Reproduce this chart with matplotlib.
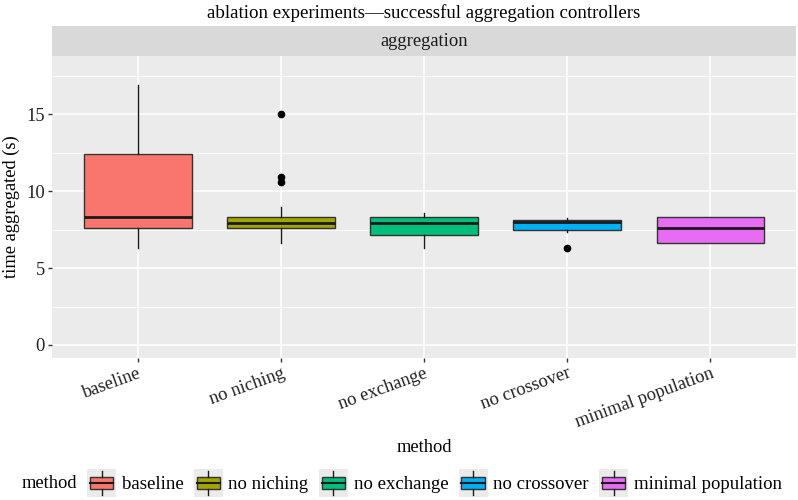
import numpy as np
import matplotlib.pyplot as plt
from matplotlib.patches import Rectangle, Patch
from matplotlib.lines import Line2D
from matplotlib.legend_handler import HandlerBase

plt.rcParams['font.family'] = ['Liberation Serif', 'DejaVu Serif']

methods = ['baseline', 'no niching', 'no exchange', 'no crossover', 'minimal population']
colors = ['#F8766D', '#A3A500', '#00BF7D', '#00B0F6', '#E76BF3']

# box statistics (seconds)
whislo = [6.32, 6.64, 6.32, 7.36, 6.64]
q1 = [7.62, 7.62, 7.17, 7.49, 6.64]
med = [8.34, 7.95, 7.95, 8.01, 7.62]
q3 = [12.44, 8.34, 8.34, 8.14, 8.34]
whishi = [16.94, 8.99, 8.60, 8.27, 8.34]
fliers = [[], [15.0, 10.94, 10.62], [], [6.32], []]

stats = []
for i, m in enumerate(methods):
    stats.append(dict(label=m, whislo=whislo[i], q1=q1[i], med=med[i],
                      q3=q3[i], whishi=whishi[i], fliers=fliers[i]))

FS = 13.3
W, H = 798, 500
fig = plt.figure(figsize=(W / 100, H / 100), dpi=100)
ax = fig.add_axes([52 / W, 1 - 358 / H, 744 / W, 302 / H])
ax.set_facecolor('#EBEBEB')

pos = np.arange(1, len(methods) + 1)
bp = ax.bxp(stats, positions=pos, widths=0.75, patch_artist=True,
            showcaps=False, manage_ticks=False,
            boxprops=dict(edgecolor='#333333', linewidth=1.0),
            medianprops=dict(color='#1a1a1a', linewidth=2.0),
            whiskerprops=dict(color='#1a1a1a', linewidth=1.0),
            flierprops=dict(marker='o', markerfacecolor='black',
                            markeredgecolor='black', markersize=4.5))
for patch, c in zip(bp['boxes'], colors):
    patch.set_facecolor(c)

ax.set_xlim(0.4, len(methods) + 0.6)
ax.set_ylim(-0.85, 18.8)
ax.set_yticks([0, 5, 10, 15])
ax.set_yticks([2.5, 7.5, 12.5, 17.5], minor=True)
ax.set_xticks(pos)
ax.set_xticklabels(methods, rotation=20, ha='right', rotation_mode='anchor')
ax.grid(which='major', color='white', linewidth=1.1)
ax.grid(which='minor', axis='y', color='white', linewidth=0.55)
ax.set_axisbelow(True)
for s in ax.spines.values():
    s.set_visible(False)
ax.tick_params(which='major', length=3, width=1, color='#333333',
               labelsize=FS, labelcolor='#222222', pad=2)
ax.tick_params(which='minor', length=0)
ax.set_xlabel('method', fontsize=FS, va='center')
ax.xaxis.set_label_coords(0.5, (358 - 447) / 302)
ax.set_ylabel('time aggregated (s)', fontsize=FS, va='center')
ax.yaxis.set_label_coords((11 - 52) / 744, 0.5)

# facet strip
sx = fig.add_axes([52 / W, 1 - 56 / H, 744 / W, 30 / H])
sx.set_facecolor('#D9D9D9')
sx.set_xticks([])
sx.set_yticks([])
for s in sx.spines.values():
    s.set_visible(False)
sx.text(0.5, 0.5, 'aggregation', ha='center', va='center', fontsize=FS,
        color='#1a1a1a', transform=sx.transAxes)

fig.text(424 / W, 1 - 13 / H, 'ablation experiments\u2014successful aggregation controllers',
         ha='center', va='center', fontsize=13.6)


class BoxKey(HandlerBase):
    def create_artists(self, legend, orig_handle, xdescent, ydescent,
                       width, height, fontsize, trans):
        x0, y0 = -xdescent, -ydescent
        bg = Rectangle((x0, y0), width, height, facecolor='#EBEBEB',
                       edgecolor='none', transform=trans)
        box = Rectangle((x0 + 0.1 * width, y0 + 0.27 * height), 0.8 * width,
                        0.46 * height, facecolor=orig_handle.get_facecolor(),
                        edgecolor='#333333', linewidth=1.0, transform=trans)
        xm = x0 + width / 2
        wl = Line2D([xm, xm], [y0 + 0.08 * height, y0 + 0.27 * height],
                    color='#1a1a1a', linewidth=1.0, transform=trans)
        wh = Line2D([xm, xm], [y0 + 0.73 * height, y0 + 0.92 * height],
                    color='#1a1a1a', linewidth=1.0, transform=trans)
        md = Line2D([x0 + 0.1 * width, x0 + 0.9 * width],
                    [y0 + 0.5 * height, y0 + 0.5 * height],
                    color='#1a1a1a', linewidth=1.5, transform=trans)
        return [bg, box, wl, wh, md]


handles = [Patch(facecolor=c) for c in colors]
leg = fig.legend(handles, methods, loc='center left', bbox_to_anchor=(87 / W, 1 - 483 / H),
                 ncol=5, frameon=False, fontsize=13.5, handler_map={Patch: BoxKey()},
                 handlelength=1.55, handleheight=1.9, handletextpad=0.3,
                 columnspacing=0.55, borderaxespad=0, borderpad=0)
fig.text(22 / W, 1 - 483 / H, 'method', ha='left', va='center', fontsize=13.3)

fig.savefig('out.png', dpi=100)
